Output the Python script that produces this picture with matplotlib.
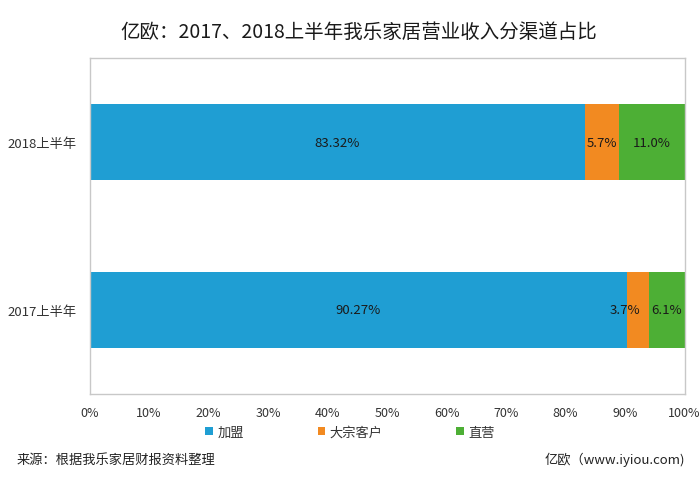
import numpy as np
import matplotlib

matplotlib.use("Agg")
import matplotlib.pyplot as plt
from matplotlib.ticker import PercentFormatter

plt.rcParams["font.family"] = ["Noto Sans CJK SC", "DejaVu Sans"]

# data
periods = ["2018上半年", "2017上半年"]
channels = ["加盟", "大宗客户", "直营"]
share_2018 = [83.32, 5.7, 11.0]
share_2017 = [90.27, 3.7, 6.1]
labels_2018 = ["83.32%", "5.7%", "11.0%"]
labels_2017 = ["90.27%", "3.7%", "6.1%"]

colors = ["#1f9ed3", "#f28a21", "#4daf35"]

values = np.array([share_2018, share_2017])
texts = [labels_2018, labels_2017]
# the small orange label in 2017 is nudged left in the original
nudge = [[0, 0, 0], [0, -9, 0]]

fig = plt.figure(figsize=(7, 4.81), dpi=100)
ax = fig.add_axes([0.128, 0.179, 0.850, 0.698])

y = np.arange(len(periods))
left = np.zeros(len(periods))
for j, ch in enumerate(channels):
    bars = ax.barh(y, values[:, j], left=left, height=0.455,
                   color=colors[j], label=ch, zorder=2)
    for i, b in enumerate(bars):
        cx = left[i] + values[i, j] / 2
        ax.annotate(texts[i][j], (cx, y[i]), xytext=(nudge[i][j], 0),
                    textcoords="offset points", ha="center", va="center",
                    fontsize=9.5, color="#1a1a1a", zorder=3)
    left += values[:, j]

ax.set_xlim(0, 100)
ax.set_ylim(1.5, -0.5)
ax.set_yticks(y)
ax.set_yticklabels(periods, fontsize=9.5, color="#333333")
ax.set_xticks(np.arange(0, 101, 10))
ax.xaxis.set_major_formatter(PercentFormatter(decimals=0))
ax.tick_params(axis="x", length=0, pad=9, labelsize=9, labelcolor="#333333")
ax.tick_params(axis="y", length=0, pad=9)
for s in ax.spines.values():
    s.set_color("#c8c8c8")
    s.set_linewidth(1.0)

fig.text(0.513, 0.933, "亿欧：2017、2018上半年我乐家居营业收入分渠道占比",
         ha="center", va="center", fontsize=14, color="#1a1a1a")

fig.legend(loc="center", bbox_to_anchor=(0.5, 0.099), ncol=3, frameon=False,
           handlelength=0.6, handleheight=0.6, handletextpad=0.3,
           columnspacing=5.6, fontsize=9.5, labelcolor="#333333")

fig.text(0.024, 0.043, "来源：根据我乐家居财报资料整理", ha="left", va="center",
         fontsize=9.5, color="#222222")
fig.text(0.978, 0.043, "亿欧（www.iyiou.com)", ha="right", va="center",
         fontsize=9.5, color="#222222")

plt.savefig("out.png", dpi=100)
plt.close()
